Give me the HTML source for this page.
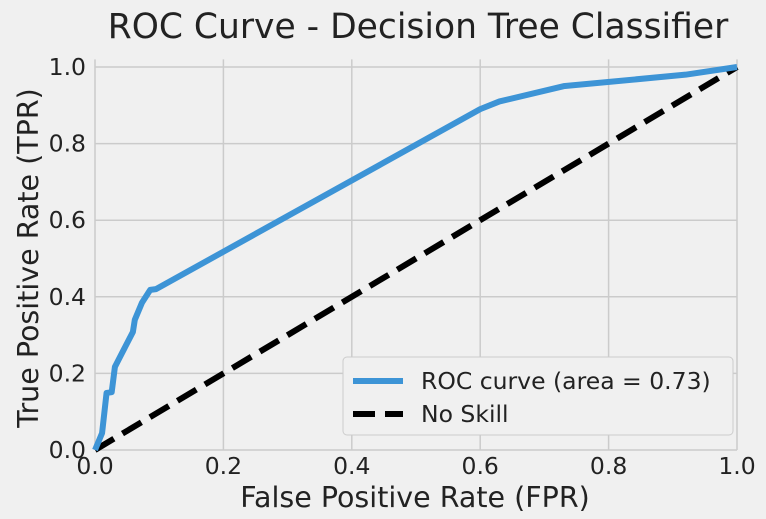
<!DOCTYPE html>
<html><head><meta charset="utf-8"><style>
html,body{margin:0;padding:0;background:#f0f0f0;}
svg{display:block;font-family:"DejaVu Sans","Liberation Sans",sans-serif;}
</style></head><body>
<svg id="c" width="766" height="519" viewBox="0 0 766 519">
<rect width="766" height="519" fill="#f0f0f0"/>
<text x="418" y="38" font-size="34.5" text-anchor="middle" fill="#222">ROC Curve - Decision Tree Classifier</text>
<g id="grid"></g><g id="ticks"></g><g id="series"></g>
<text x="415" y="507" font-size="28.5" text-anchor="middle" fill="#222">False Positive Rate (FPR)</text>
<text transform="translate(38,258) rotate(-90)" font-size="28.5" text-anchor="middle" fill="#222">True Positive Rate (TPR)</text>
<g>
<rect x="343" y="357" width="390" height="78" rx="4" fill="#f0f0f0" stroke="#cccccc"/>
<line x1="353" y1="381" x2="403" y2="381" stroke="#3d94d6" stroke-width="6"/>
<text x="421" y="389" font-size="23.5" fill="#222">ROC curve (area = 0.73)</text>
<line x1="353" y1="414" x2="403" y2="414" stroke="#000" stroke-width="6" stroke-dasharray="22,10"/>
<text x="421" y="422" font-size="23.5" fill="#222">No Skill</text>
</g>
</svg>
<script>
const fpr=[0,0.011,0.018,0.026,0.031,0.042,0.059,0.062,0.073,0.086,0.095,0.6,0.63,0.73,0.92,1];
const tpr=[0,0.044,0.149,0.151,0.217,0.253,0.308,0.34,0.384,0.418,0.42,0.89,0.91,0.95,0.98,1];
const noSkill=[0,1];
const xTicks=[0,0.2,0.4,0.6,0.8,1.0];
const yTicks=[0,0.2,0.4,0.6,0.8,1.0];
const NS="http://www.w3.org/2000/svg";
const X=v=>95+v*642, Y=v=>450-v*383;
function mk(t,a,p){const e=document.createElementNS(NS,t);for(const k in a)e.setAttribute(k,a[k]);p.appendChild(e);return e;}
const g=document.getElementById('grid'),tk=document.getElementById('ticks'),s=document.getElementById('series');
xTicks.forEach(v=>{const l=mk('line',{x1:X(v),x2:X(v),y1:Y(0),y2:Y(1.02),stroke:'#cbcbcb','stroke-width':1.5},g);


const t=mk('text',{x:X(v),y:474,'font-size':23.5,'text-anchor':'middle',fill:'#222'},tk);t.textContent=v.toFixed(1);

});
yTicks.forEach(v=>{const l=mk('line',{x1:X(0),x2:737,y1:Y(v),y2:Y(v),stroke:'#cbcbcb','stroke-width':1.5},g);


const t=mk('text',{x:86,y:Y(v)+8,'font-size':23.5,'text-anchor':'end',fill:'#222'},tk);t.textContent=v.toFixed(1);

});
const ns=mk('polyline',{points:noSkill.map(v=>X(v)+','+Y(v)).join(' '),fill:'none',stroke:'#000','stroke-width':6,'stroke-dasharray':'22,10'},s);


const roc=mk('polyline',{points:fpr.map((v,i)=>X(v)+','+Y(tpr[i])).join(' '),fill:'none',stroke:'#3d94d6','stroke-width':6,'stroke-linejoin':'round'},s);


</script>
</body></html>
